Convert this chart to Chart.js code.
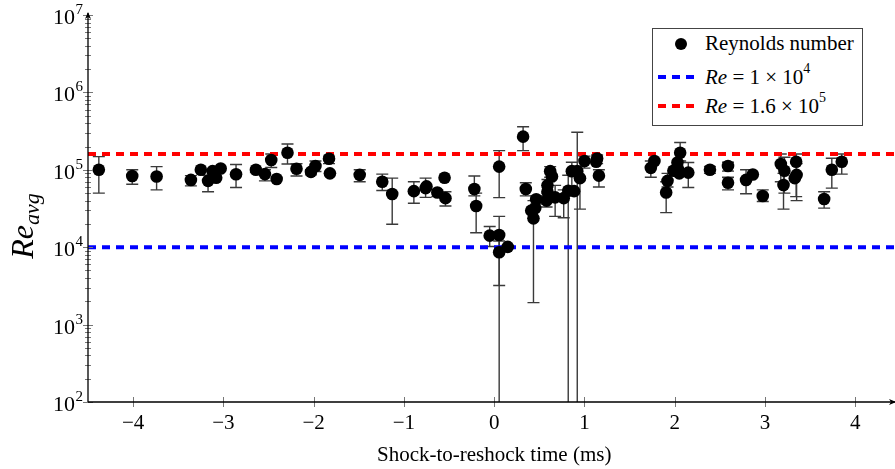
<!DOCTYPE html>
<html>
<head>
<meta charset="utf-8">
<script src="https://cdn.jsdelivr.net/npm/chart.js@4/dist/chart.umd.min.js"></script>
<style>
  html, body { margin: 0; padding: 0; background: #fff; }
  #wrap { position: relative; width: 895px; height: 469px; overflow: hidden; }
  #legend {
    position: absolute; left: 652px; top: 28px; width: 211px; height: 98px;
    border: 1px solid #444; background: #fff; box-sizing: border-box;
    font-family: "Liberation Serif", serif; font-size: 21px; color: #000;
  }
  #legend .row { position: absolute; left: 52px; height: 24px; line-height: 24px; white-space: nowrap; }
  #legend sup { font-size: 14px; position: relative; top: -3px; vertical-align: top; line-height: 14px; }
  #legend .dot { position: absolute; width: 12px; height: 12px; border-radius: 50%; background: #000; }
  #legend .dash { position: absolute; height: 4px; width: 36px; }
</style>
</head>
<body>
<div id="wrap">
  <canvas id="chart" width="895" height="469"></canvas>
  <div id="legend">
    <div class="dot" style="left:22px; top:9px;"></div>
    <div class="row" style="top:2px;">Reynolds number</div>
    <div class="dash" style="left:5px; top:46px; background:repeating-linear-gradient(90deg,#0000ff 0 8px,transparent 8px 14px);"></div>
    <div class="row" style="top:36px;"><i>Re</i> = 1 × 10<sup>4</sup></div>
    <div class="dash" style="left:5px; top:75px; background:repeating-linear-gradient(90deg,#ff0000 0 8px,transparent 8px 14px);"></div>
    <div class="row" style="top:65px;"><i>Re</i> = 1.6 × 10<sup>5</sup></div>
  </div>
</div>
<script>
// données
const timeMs = [
  -4.38, -4.01, -3.74, -3.36, -3.25, -3.17, -3.12, -3.08, -3.03, -2.86,
  -2.64, -2.54, -2.47, -2.41, -2.29, -2.19, -2.03, -1.98, -1.83, -1.82,
  -1.49, -1.24, -1.13, -0.89, -0.76, -0.75, -0.63, -0.55, -0.54, -0.22,
  -0.20, -0.05, 0.055, 0.055, 0.055, 0.15, 0.32, 0.35, 0.41, 0.435,
  0.455, 0.465, 0.58, 0.59, 0.59, 0.62, 0.64, 0.675, 0.77, 0.82,
  0.86, 0.885, 0.92, 0.95, 1.0, 1.13, 1.14, 1.16, 1.735, 1.775,
  1.92, 1.905, 1.985, 2.03, 2.04, 2.06, 2.05, 2.15, 2.39, 2.59,
  2.59, 2.79, 2.865, 2.975, 3.175, 3.205, 3.215, 3.345, 3.35, 3.33,
  3.655, 3.74, 3.85
];
const reAvg = [
  1.0e5, 8.3e4, 8.2e4, 7.4e4, 1.0e5, 7.2e4, 9.6e4, 7.9e4, 1.04e5, 8.75e4,
  1.0e5, 8.8e4, 1.34e5, 7.6e4, 1.66e5, 1.03e5, 9.4e4, 1.12e5, 1.39e5, 9.0e4,
  8.6e4, 7.0e4, 4.87e4, 5.3e4, 5.8e4, 6.1e4, 5.1e4, 7.9e4, 4.3e4, 5.65e4,
  3.4e4, 1.41e4, 1.1e5, 1.44e4, 8.6e3, 1.01e4, 2.68e5, 5.65e4, 2.97e4, 2.36e4,
  3.2e4, 4.16e4, 4.0e4, 5.2e4, 6.3e4, 9.6e4, 8.2e4, 4.4e4, 4.3e4, 5.37e4,
  9.6e4, 5.3e4, 9.6e4, 7.8e4, 1.3e5, 1.27e5, 1.4e5, 8.4e4, 1.06e5, 1.3e5,
  7.2e4, 5.1e4, 9.7e4, 1.24e5, 1.0e5, 1.66e5, 9.0e4, 9.2e4, 1.0e5, 1.12e5,
  6.8e4, 7.4e4, 8.7e4, 4.58e4, 1.19e5, 6.37e4, 9.7e4, 1.27e5, 8.6e4, 7.8e4,
  4.2e4, 1.0e5, 1.27e5
];
// barres d'erreur (null = pas de barre visible)
const reLow = [
  5.0e4, 6.5e4, 5.5e4, 6.2e4, null, 5.2e4, null, null, null, 5.9e4,
  9.2e4, 7.2e4, 1.07e5, null, 1.19e5, 8.3e4, 8.6e4, 9.5e4, 1.2e5, null,
  7.0e4, 5.4e4, 1.98e4, 3.7e4, 4.4e4, null, 4.5e4, null, 3.4e4, 4.6e4,
  1.54e4, 1.02e4, 4.37e4, 10, 3.2e3, null, 1.77e5, 4.6e4, null, 1.92e3,
  null, 3.6e4, 3.3e4, null, 5.0e4, 8.0e4, null, 2.5e4, 2.4e4, 10,
  4.8e4, null, 10, 3.1e4, 1.05e5, null, 1.2e5, 6.0e4, 8.0e4, null,
  6.0e4, 2.8e4, null, null, 8.5e4, 1.3e5, null, 5.9e4, 9.0e4, 9.6e4,
  5.5e4, 4.9e4, null, 3.9e4, 7.0e4, 3.1e4, 5.0e4, 4.5e4, 4.0e4, null,
  3.2e4, 5.8e4, 8.8e4
];
const reHigh = [
  1.48e5, 1.0e5, 1.1e5, 8.4e4, null, 8.5e4, null, null, null, 1.17e5,
  1.05e5, 1.0e5, 1.6e5, null, 2.15e5, 1.2e5, 1.0e5, 1.3e5, 1.5e5, null,
  1.0e5, 8.8e4, 7.8e4, 7.0e4, 7.8e4, null, 5.5e4, null, 5.2e4, 8.3e4,
  5.0e4, 1.85e4, 1.77e5, 2.5e4, 1.2e4, null, 3.6e5, 6.8e4, null, 4.0e4,
  null, 4.6e4, 4.6e4, null, 7.5e4, 1.1e5, null, 6.3e4, 5.5e4, 8.5e4,
  1.25e5, null, 3.05e5, 1.1e5, 1.5e5, null, 1.55e5, 1.0e5, 1.3e5, null,
  9.0e4, 7.0e4, null, null, 1.3e5, 2.25e5, null, 1.24e5, 1.1e5, 1.25e5,
  8.0e4, 1.0e5, null, 5.5e4, 1.6e5, 9.0e4, 1.45e5, 1.6e5, 1.2e5, null,
  5.2e4, 1.41e5, 1.6e5
];
const refLow = 1e4;
const refHigh = 1.6e5;
const xTicks = [-4, -3, -2, -1, 0, 1, 2, 3, 4];
const yDecades = [2, 3, 4, 5, 6, 7];
const xMin = -4.5, xMax = 4.44;

const serif = '"Liberation Serif", "Times New Roman", serif';

const points = timeMs.map((t, i) => ({ x: t, y: reAvg[i] }));

// barres d'erreur sous les points
const errorBars = {
  id: "errorBars",
  beforeDatasetsDraw(chart) {
    const { ctx, chartArea: a, scales: { x, y } } = chart;
    ctx.save();
    ctx.beginPath();
    ctx.rect(a.left, a.top, a.right - a.left, a.bottom - a.top);
    ctx.clip();
    ctx.strokeStyle = "#3a3a3a";
    ctx.lineWidth = 1.4;
    timeMs.forEach((t, i) => {
      if (reLow[i] == null) return;
      const px = x.getPixelForValue(t);
      const y1 = y.getPixelForValue(reLow[i]);
      const y2 = y.getPixelForValue(reHigh[i]);
      ctx.beginPath();
      ctx.moveTo(px, y1); ctx.lineTo(px, y2);
      ctx.moveTo(px - 6, y1); ctx.lineTo(px + 6, y1);
      ctx.moveTo(px - 6, y2); ctx.lineTo(px + 6, y2);
      ctx.stroke();
    });
    ctx.restore();
  }
};

// axes façon pgfplots : flèches, graduations, exposants
const axesDeco = {
  id: "axesDeco",
  afterDraw(chart) {
    const { ctx, chartArea: a, scales: { x, y } } = chart;
    ctx.save();
    // graduations
    ctx.strokeStyle = "#777";
    ctx.lineWidth = 1;
    ctx.beginPath();
    xTicks.forEach(v => {
      const px = Math.round(x.getPixelForValue(v)) + 0.5;
      ctx.moveTo(px, a.bottom - 5); ctx.lineTo(px, a.bottom + 5);
    });
    yDecades.forEach(d => {
      const py = Math.round(y.getPixelForValue(Math.pow(10, d))) + 0.5;
      ctx.moveTo(a.left - 5, py); ctx.lineTo(a.left + 5, py);
      if (d < 7) {
        for (let m = 2; m <= 9; m++) {
          const my = Math.round(y.getPixelForValue(m * Math.pow(10, d))) + 0.5;
          ctx.moveTo(a.left - 3, my); ctx.lineTo(a.left + 3, my);
        }
      }
    });
    ctx.stroke();

    // lignes d'axe
    ctx.strokeStyle = "#000";
    ctx.lineWidth = 1.3;
    ctx.beginPath();
    ctx.moveTo(a.left, a.bottom); ctx.lineTo(a.left, a.top - 2);
    ctx.moveTo(a.left, a.bottom); ctx.lineTo(chart.width, a.bottom);
    ctx.stroke();
    // flèches
    ctx.fillStyle = "#000";
    ctx.beginPath();
    ctx.moveTo(a.left, a.top - 3);
    ctx.lineTo(a.left - 3, a.top + 4);
    ctx.lineTo(a.left, a.top + 2);
    ctx.lineTo(a.left + 3, a.top + 4);
    ctx.closePath();
    ctx.fill();
    ctx.beginPath();
    ctx.moveTo(chart.width + 1, a.bottom);
    ctx.lineTo(chart.width - 6, a.bottom - 3);
    ctx.lineTo(chart.width - 4, a.bottom);
    ctx.lineTo(chart.width - 6, a.bottom + 3);
    ctx.closePath();
    ctx.fill();

    // étiquettes x
    ctx.fillStyle = "#000";
    ctx.font = "21px " + serif;
    ctx.textAlign = "center";
    ctx.textBaseline = "middle";
    xTicks.forEach(v => {
      const lbl = v < 0 ? "\u2212" + Math.abs(v) : String(v);
      ctx.fillText(lbl, x.getPixelForValue(v), a.bottom + 21);
    });

    // étiquettes y : 10^n
    yDecades.forEach(d => {
      const py = y.getPixelForValue(Math.pow(10, d));
      ctx.font = "15px " + serif;
      ctx.textAlign = "right";
      ctx.textBaseline = "alphabetic";
      const supW = ctx.measureText(String(d)).width;
      const right = a.left - 5;
      ctx.fillText(String(d), right, py - 1);
      ctx.font = "22px " + serif;
      ctx.fillText("10", right - supW - 0.5, py + 9);
    });

    // titre x
    ctx.font = "21px " + serif;
    ctx.textAlign = "center";
    ctx.textBaseline = "middle";
    ctx.fillText("Shock-to-reshock time (ms)", x.getPixelForValue(0), 455);

    // titre y : Re_avg
    ctx.translate(33, 226);
    ctx.rotate(-Math.PI / 2);
    ctx.textBaseline = "alphabetic";
    ctx.textAlign = "left";
    ctx.font = "italic 32px " + serif;
    const wRe = ctx.measureText("Re").width;
    ctx.font = "italic 22px " + serif;
    const wSub = ctx.measureText("avg").width;
    const x0 = -(wRe + wSub) / 2;
    ctx.font = "italic 32px " + serif;
    ctx.fillText("Re", x0, 0);
    ctx.font = "italic 22px " + serif;
    ctx.fillText("avg", x0 + wRe, 6);
    ctx.restore();
  }
};

new Chart(document.getElementById("chart"), {
  type: "scatter",
  data: {
    datasets: [
      {
        label: "Reynolds number",
        data: points,
        pointRadius: 6.3,
        pointBackgroundColor: "#000",
        pointBorderWidth: 0,
        order: 1
      },
      {
        type: "line",
        label: "Re = 1e4",
        data: [{ x: xMin, y: refLow }, { x: xMax, y: refLow }],
        borderColor: "#0000ff",
        borderWidth: 4,
        borderDash: [8, 6],
        pointRadius: 0,
        order: 3
      },
      {
        type: "line",
        label: "Re = 1.6e5",
        data: [{ x: xMin, y: refHigh }, { x: xMax, y: refHigh }],
        borderColor: "#ff0000",
        borderWidth: 4,
        borderDash: [8, 6],
        pointRadius: 0,
        order: 2
      }
    ]
  },
  options: {
    responsive: false,
    animation: false,
    layout: { autoPadding: false, padding: { left: 88, top: 15, right: 0, bottom: 67 } },
    plugins: { legend: { display: false }, tooltip: { enabled: false } },
    scales: {
      x: { type: "linear", min: xMin, max: xMax, display: false },
      y: { type: "logarithmic", min: 100, max: 1e7, display: false }
    }
  },
  plugins: [errorBars, axesDeco]
});
</script>
</body>
</html>
